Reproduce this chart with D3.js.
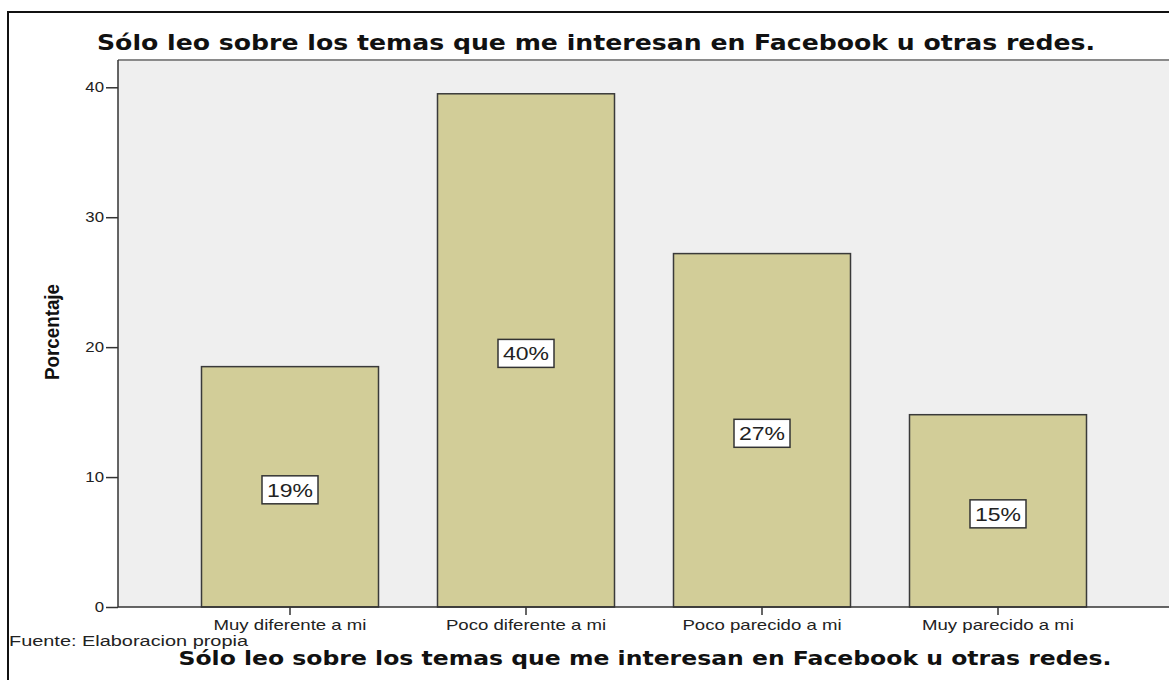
<!DOCTYPE html>
<html>
<head>
<meta charset="utf-8">
<script src="https://cdn.jsdelivr.net/npm/d3@7"></script>
<style>
  body { margin: 0; background: white; }
</style>
</head>
<body>
<script>
// chart data
const categories = ["Muy diferente a mi", "Poco diferente a mi", "Poco parecido a mi", "Muy parecido a mi"];
const values = [18.5, 39.5, 27.2, 14.8];
const pctLabels = ["19%", "40%", "27%", "15%"];
const yTicks = [0, 10, 20, 30, 40];
const titleText = "Sólo leo sobre los temas que me interesan en Facebook u otras redes.";
const yLabel = "Porcentaje";
const sourceText = "Fuente: Elaboracion propia";

const w = 1169
const h = 680
const padL = 118, padT = 60, axisY = 607

const svg = d3.select("body")
              .append("svg")
              .attr("width", w)
              .attr("height", h)

// stretch text horizontally like the original picture
const fit = (sel, width) => sel.attr("textLength", width).attr("lengthAdjust", "spacingAndGlyphs")
const stretch = (sel, k) => sel.each(function () {
  const n = this.getComputedTextLength()
  d3.select(this).attr("textLength", n * k).attr("lengthAdjust", "spacingAndGlyphs")
})

// outer frame
svg.append("path")
   .attr("d", "M8," + h + " V12 H" + w)
   .attr("fill", "none")
   .attr("stroke", "#111")
   .attr("stroke-width", 2)

// plot background
svg.append("rect")
   .attr("x", padL)
   .attr("y", padT)
   .attr("width", w - padL)
   .attr("height", axisY - padT)
   .attr("fill", "#efefef")
svg.append("line")
   .attr("x1", padL).attr("x2", w)
   .attr("y1", padT).attr("y2", padT)
   .attr("stroke", "#8a8a8a")
   .attr("stroke-width", 2)

const xScale = d3.scaleBand()
                 .domain(categories)
                 .range([172, 1116])
                 .paddingInner(0.25)
                 .paddingOuter(0.125)
const yScale = d3.scaleLinear()
                 .domain([0, 42.1])
                 .range([axisY, padT])

const data = categories.map((c, i) => ({cat: c, v: values[i], label: pctLabels[i]}))

svg.selectAll("rect.bar")
   .data(data)
   .enter()
   .append("rect")
   .attr("class", "bar")
   .attr("x", d => xScale(d.cat))
   .attr("y", d => yScale(d.v))
   .attr("width", xScale.bandwidth())
   .attr("height", d => axisY - yScale(d.v))
   .attr("fill", "#d2cd98")
   .attr("stroke", "#3a3a3a")
   .attr("stroke-width", 1.5)

// value boxes
const boxes = svg.selectAll("g.lbl")
   .data(data)
   .enter()
   .append("g")
   .attr("class", "lbl")
   .attr("transform", d => "translate(" + (xScale(d.cat) + xScale.bandwidth() / 2) + "," + ((yScale(d.v) + axisY) / 2 + 3) + ")")
boxes.append("rect")
   .attr("x", -28)
   .attr("y", -14)
   .attr("width", 56)
   .attr("height", 28)
   .attr("fill", "white")
   .attr("stroke", "#333")
   .attr("stroke-width", 1.5)
boxes.append("text")
   .attr("text-anchor", "middle")
   .attr("y", 7)
   .attr("font-family", "Liberation Sans, Arial, sans-serif")
   .attr("font-size", 19)
   .attr("fill", "#222")
   .text(d => d.label)
   .call(fit, 46)

// axes
const xAxis = d3.axisBottom(xScale).tickSize(8).tickPadding(4)
const yAxis = d3.axisLeft(yScale).tickValues(yTicks).tickSize(12).tickPadding(2)

const gx = svg.append("g")
   .attr("transform", "translate(0," + axisY + ")")
   .call(xAxis)
gx.select(".domain").attr("d", "M" + padL + ",0H" + w).attr("stroke", "#333").attr("stroke-width", 1.5)
gx.selectAll(".tick line").attr("stroke", "#333").attr("stroke-width", 1.5)
gx.selectAll(".tick text")
  .attr("font-family", "Liberation Sans, Arial, sans-serif")
  .attr("font-size", 15)
  .attr("fill", "#222")
  .call(stretch, 1.24)

const gy = svg.append("g")
   .attr("transform", "translate(" + padL + ",0)")
   .call(yAxis)
gy.select(".domain").attr("d", "M0," + padT + "V" + axisY).attr("stroke", "#333").attr("stroke-width", 1.5)
gy.selectAll(".tick line").attr("stroke", "#333").attr("stroke-width", 1.5)
gy.selectAll(".tick text")
  .attr("font-family", "Liberation Sans, Arial, sans-serif")
  .attr("font-size", 14)
  .attr("fill", "#222")
  .call(stretch, 1.2)

// titles
svg.append("text")
   .attr("x", 596)
   .attr("y", 50)
   .attr("text-anchor", "middle")
   .attr("font-family", "DejaVu Sans, Verdana, sans-serif")
   .attr("font-weight", "bold")
   .attr("font-size", 22)
   .attr("fill", "#111")
   .text(titleText)
   .call(fit, 998)

svg.append("text")
   .attr("x", 645)
   .attr("y", 665)
   .attr("text-anchor", "middle")
   .attr("font-family", "DejaVu Sans, Verdana, sans-serif")
   .attr("font-weight", "bold")
   .attr("font-size", 20)
   .attr("fill", "#111")
   .text(titleText)
   .call(fit, 933)

svg.append("text")
   .attr("transform", "translate(59,332) rotate(-90)")
   .attr("text-anchor", "middle")
   .attr("font-family", "Liberation Sans Narrow, Liberation Sans, Arial, sans-serif")
   .attr("font-weight", "bold")
   .attr("font-size", 20)
   .attr("fill", "#111")
   .text(yLabel)
   .call(fit, 96)

svg.append("text")
   .attr("x", 9)
   .attr("y", 646)
   .attr("font-family", "Liberation Sans, Arial, sans-serif")
   .attr("font-size", 14)
   .attr("fill", "#222")
   .text(sourceText)
   .call(fit, 239)
</script>
</body>
</html>
